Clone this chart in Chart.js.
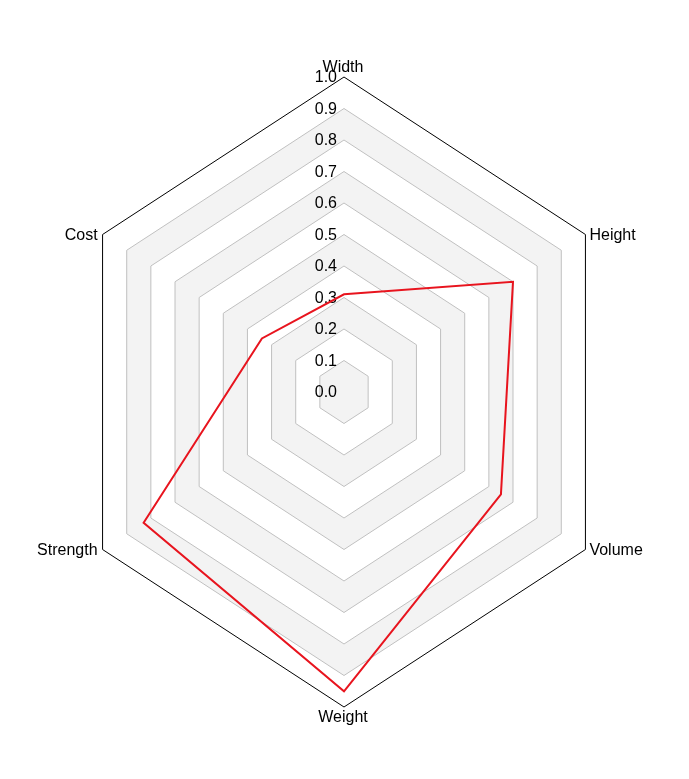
<!DOCTYPE html>
<html>
<head>
    <title>Radar Chart</title>
    <script src="https://cdn.jsdelivr.net/npm/chart.js@4.4.1/dist/chart.umd.min.js"></script>
    <style>
        body {
            margin: 0;
            background: #ffffff;
        }
        #chartBox {
            width: 689px;
            height: 779px;
        }
    </style>
</head>
<body>
    <div id="chartBox">
        <canvas id="radarChart" width="689" height="779"></canvas>
    </div>

    <script>
        // Data
        const categories = ['Width', 'Height', 'Volume', 'Weight', 'Strength', 'Cost'];
        const seriesValues = [0.31, 0.70, 0.65, 0.95, 0.83, 0.34];
        const tickLabels = ['0.0', '0.1', '0.2', '0.3', '0.4', '0.5', '0.6', '0.7', '0.8', '0.9', '1.0'];

        const squeezeX = 0.885;   // the reference hexagon is narrower than it is tall
        const labelFont = '16px "Liberation Sans", Arial, sans-serif';

        // Radial scale that compresses the horizontal distance from the centre
        class SquishRadialScale extends Chart.RadialLinearScale {
            getPointPosition(index, distanceFromCenter, additionalAngle) {
                const p = super.getPointPosition(index, distanceFromCenter, additionalAngle);
                p.x = this.xCenter + (p.x - this.xCenter) * squeezeX;
                return p;
            }
        }
        SquishRadialScale.id = 'squishRadial';
        SquishRadialScale.defaults = Chart.RadialLinearScale.defaults;
        SquishRadialScale.defaultRoutes = Chart.RadialLinearScale.defaultRoutes;
        SquishRadialScale.descriptors = Chart.RadialLinearScale.descriptors;
        Chart.register(SquishRadialScale);

        function ringPath(ctx, scale, radius) {
            for (let i = 0; i < categories.length; i++) {
                const p = scale.getPointPosition(i, radius);
                if (i === 0) ctx.moveTo(p.x, p.y);
                else ctx.lineTo(p.x, p.y);
            }
            ctx.closePath();
        }

        // Alternating grey bands, under the grid lines
        const bandsPlugin = {
            id: 'bands',
            beforeDraw(chart) {
                const scale = chart.scales.r;
                const ctx = chart.ctx;
                const ticks = scale.ticks;
                ctx.save();
                ctx.fillStyle = '#f3f3f3';
                for (let i = 0; i < ticks.length - 1; i += 2) {
                    const inner = scale.getDistanceFromCenterForValue(ticks[i].value);
                    const outer = scale.getDistanceFromCenterForValue(ticks[i + 1].value);
                    ctx.beginPath();
                    ringPath(ctx, scale, outer);
                    if (inner > 0) ringPath(ctx, scale, inner);
                    ctx.fill('evenodd');
                }
                ctx.restore();
            }
        };

        // Tick labels left of the vertical axis, category labels round the outside
        const labelsPlugin = {
            id: 'labels',
            beforeDatasetsDraw(chart) {
                const scale = chart.scales.r;
                const ctx = chart.ctx;
                ctx.save();
                ctx.font = labelFont;
                ctx.fillStyle = '#000000';

                ctx.textAlign = 'right';
                ctx.textBaseline = 'middle';
                scale.ticks.forEach((t, i) => {
                    const y = scale.yCenter - scale.getDistanceFromCenterForValue(t.value);
                    ctx.fillText(tickLabels[i], scale.xCenter - 7, y + 1);
                });

                categories.forEach((name, i) => {
                    const p = scale.getPointPosition(i, scale.drawingArea);
                    const dx = p.x - scale.xCenter;
                    if (Math.abs(dx) < 1) {
                        ctx.textAlign = 'center';
                        if (p.y < scale.yCenter) {
                            ctx.textBaseline = 'bottom';
                            ctx.fillText(name, p.x - 1, p.y - 1);
                        } else {
                            ctx.textBaseline = 'top';
                            ctx.fillText(name, p.x - 1, p.y + 3);
                        }
                    } else {
                        ctx.textBaseline = 'middle';
                        ctx.textAlign = dx > 0 ? 'left' : 'right';
                        ctx.fillText(name, p.x + (dx > 0 ? 4 : -5), p.y + 1);
                    }
                });
                ctx.restore();
            }
        };

        const radarChart = new Chart(document.getElementById('radarChart'), {
            type: 'radar',
            data: {
                labels: categories,
                datasets: [{
                    data: seriesValues,
                    borderColor: '#e8141e',
                    borderWidth: 2,
                    fill: false,
                    pointRadius: 0,
                    pointHoverRadius: 0,
                    tension: 0
                }]
            },
            options: {
                responsive: false,
                animation: false,
                layout: {
                    padding: { left: 29, right: 30, top: 77, bottom: 72 }
                },
                plugins: {
                    legend: { display: false },
                    tooltip: { enabled: false }
                },
                elements: {
                    line: { borderJoinStyle: 'miter' }
                },
                scales: {
                    r: {
                        type: 'squishRadial',
                        min: 0,
                        max: 1,
                        ticks: { stepSize: 0.1, display: false },
                        angleLines: { display: false },
                        pointLabels: { display: false },
                        grid: {
                            circular: false,
                            lineWidth: 1,
                            color: (c) => (c.tick && c.tick.value >= 0.999 ? '#000000' : '#c0c0c0')
                        }
                    }
                }
            },
            plugins: [bandsPlugin, labelsPlugin]
        });
    </script>
</body>
</html>
